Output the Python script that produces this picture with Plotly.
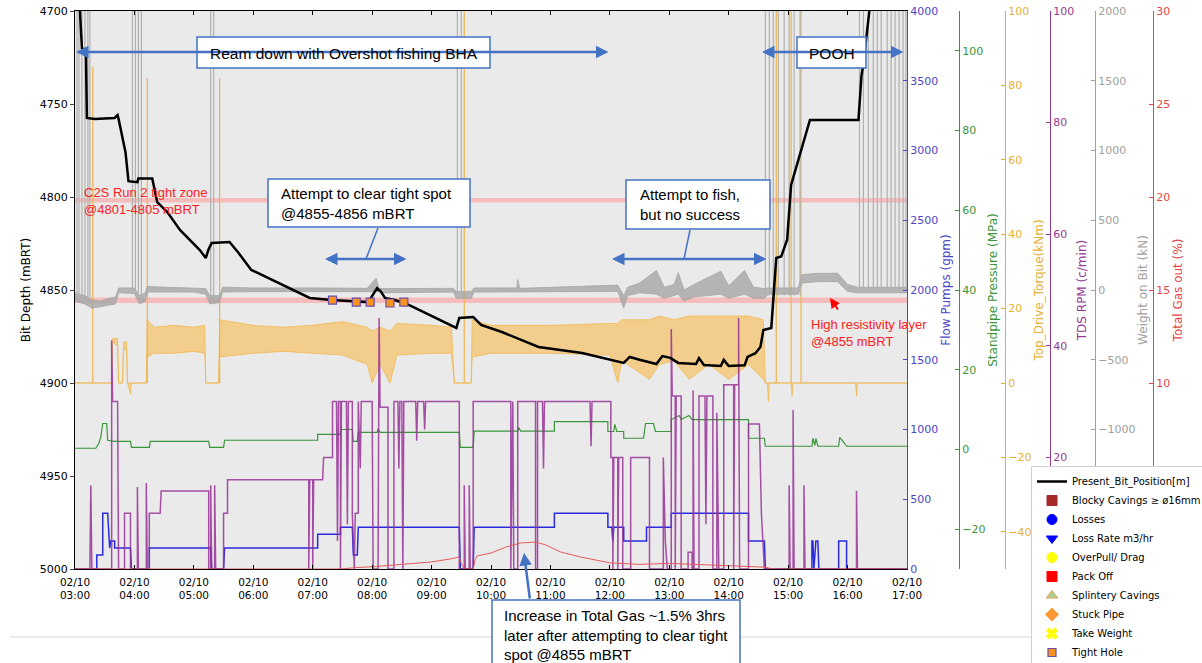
import plotly.graph_objects as go

DAY = "2020-02-10 "

# ---------------- data ----------------
bit_position = [("03:04", 4690), ("03:06", 4712), ("03:07", 4720), ("03:11", 4721), ("03:12", 4757.5),
                ("03:20", 4758), ("03:30", 4757.7), ("03:40", 4757.5), ("03:43", 4756), ("03:44", 4758),
                ("03:51", 4776), ("03:54", 4791.5), ("04:03", 4792), ("04:04", 4790), ("04:18", 4790),
                ("04:23", 4802.7), ("04:33", 4808), ("04:46", 4817.7), ("05:06", 4828.5), ("05:12", 4832.8),
                ("05:15", 4828), ("05:18", 4824.7), ("05:36", 4824.2), ("05:45", 4830), ("05:58", 4839.2),
                ("06:24", 4845.7), ("06:57", 4854.3), ("07:19", 4855.4), ("07:56", 4856.5), ("08:05", 4849),
                ("08:09", 4851), ("08:13", 4854.3), ("08:23", 4855.4), ("08:37", 4858), ("09:25", 4870.4),
                ("09:28", 4865), ("09:42", 4864.5), ("09:50", 4868.8), ("10:11", 4872.6), ("10:48", 4880.6),
                ("11:32", 4883.9), ("12:14", 4889.2), ("12:20", 4886), ("12:31", 4887.6), ("12:47", 4889.8),
                ("12:53", 4885.5), ("13:01", 4886.5), ("13:09", 4889.2), ("13:27", 4889.8), ("13:30", 4886.6),
                ("13:35", 4890.3), ("13:52", 4890.9), ("13:55", 4887.6), ("14:00", 4890.9), ("14:16", 4890.5),
                ("14:19", 4886), ("14:27", 4884), ("14:32", 4880.6), ("14:35", 4871.5), ("14:43", 4870.4),
                ("14:48", 4832.8), ("14:53", 4832), ("14:59", 4823), ("15:03", 4793.5), ("15:13", 4774.7),
                ("15:22", 4758.6), ("16:11", 4758.6), ("16:14", 4735), ("16:16", 4728), ("16:22", 4700),
                ("16:24", 4680)]

tight_hole = [("07:20", 4855.4), ("07:44", 4856.5), ("07:58", 4856.5), ("08:18", 4857), ("08:32", 4856.5)]

flow_pumps = [("03:00", 0), ("03:22", 0), ("03:22", 100), ("03:28", 100), ("03:28", 400), ("03:33", 400),
              ("03:35", 150), ("03:36", 200), ("03:40", 200), ("03:40", 150), ("03:56", 150), ("03:57", 0),
              ("04:15", 0), ("04:15", 150), ("05:17", 150), ("05:18", 0), ("05:30", 0), ("05:31", 150),
              ("07:05", 150), ("07:05", 250), ("07:28", 250), ("07:28", 300), ("07:40", 300), ("07:41", 100),
              ("07:45", 100), ("07:46", 300), ("09:28", 300), ("09:29", 0), ("09:42", 0), ("09:43", 300),
              ("11:04", 300), ("11:04", 400), ("11:58", 400), ("11:58", 300), ("12:02", 300), ("12:03", 200),
              ("12:04", 300), ("12:14", 300), ("12:14", 200), ("12:37", 200), ("12:37", 300), ("13:02", 300),
              ("13:02", 400), ("14:20", 400), ("14:20", 200), ("14:36", 200), ("14:37", 0), ("15:24", 0),
              ("15:24", 200), ("15:25", 200), ("15:26", 0), ("15:28", 200), ("15:30", 200), ("15:31", 0),
              ("15:51", 0), ("15:51", 200), ("15:59", 200), ("15:59", 0), ("17:00", 0)]

standpipe = [("03:00", 0.3), ("03:21", 0.3), ("03:24", 1.5), ("03:26", 3), ("03:28", 6.5), ("03:32", 6.5),
             ("03:33", 2.3), ("03:40", 2.0), ("03:56", 2.0), ("03:57", 0.5), ("04:15", 0.5), ("04:16", 2.0),
             ("05:15", 2.0), ("05:16", 0.5), ("05:30", 0.5), ("05:31", 2.3), ("07:05", 2.3), ("07:05", 3.8),
             ("07:28", 3.8), ("07:28", 5.0), ("07:40", 5.0), ("07:41", 2.0), ("07:45", 2.0), ("07:46", 4.3),
             ("08:05", 4.3), ("08:06", 5.2), ("08:08", 4.3), ("09:28", 4.3), ("09:29", 0.5), ("09:42", 0.5),
             ("09:43", 4.6), ("10:27", 4.6), ("10:28", 5.5), ("10:30", 4.6), ("11:04", 4.6), ("11:04", 7.0),
             ("11:58", 7.0), ("11:58", 4.5), ("12:04", 4.5), ("12:05", 6.3), ("12:07", 4.5), ("12:14", 4.5),
             ("12:14", 2.8), ("12:34", 2.8), ("12:36", 6.5), ("12:44", 6.5), ("12:46", 4.5), ("13:02", 4.5),
             ("13:02", 7.5), ("13:10", 8.5), ("13:12", 7.5), ("13:20", 8.5), ("13:23", 7.5), ("14:20", 7.5),
             ("14:20", 2.8), ("14:36", 2.8), ("14:37", 0.8), ("15:24", 0.8), ("15:25", 2.8), ("15:27", 1.0),
             ("15:28", 2.8), ("15:30", 0.8), ("15:51", 0.8), ("15:52", 3.0), ("15:57", 1.5), ("15:59", 0.8),
             ("17:00", 0.8)]

# torque: (time, lower edge, upper edge) of the noisy trace
torque_band = [("03:00", 0, 0), ("03:37", 0, 0), ("03:38", 11, 12), ("03:43", 10, 12), ("03:44", 0, 0),
               ("03:48", 0, 0), ("03:49", 9, 11), ("03:52", 9, 11), ("03:53", 0, 0), ("03:56", -3, 0),
               ("03:57", 0, 0), ("04:12", 0, 0), ("04:13", 7, 17), ("04:20", 8, 15), ("04:40", 8, 15.5),
               ("05:00", 8.5, 15), ("05:11", 8, 15.5), ("05:12", 0, 0), ("05:25", 0, 0), ("05:26", 7, 17),
               ("06:00", 8, 15.5), ("06:30", 8.5, 15), ("07:00", 8, 15.5), ("07:30", 7.5, 16.5), ("07:55", 5, 15),
               ("08:00", 0, 14), ("08:08", 5, 15), ("08:18", 0, 14), ("08:25", 7.5, 16), ("09:00", 8, 15.5),
               ("09:20", 8, 15), ("09:23", 0, 0), ("09:40", 0, 0), ("09:41", 7, 17), ("10:00", 8, 15.5),
               ("11:00", 8, 15.5), ("12:00", 7.5, 16), ("12:08", 0, 16), ("12:12", 6, 17), ("12:40", 1, 17),
               ("12:50", 5, 18), ("13:05", 6, 17), ("13:20", 1, 18), ("13:40", 5, 18), ("14:00", 1, 18),
               ("14:20", 5, 18), ("14:35", 1, 17), ("14:37", 0, 0), ("14:39", 0, 0), ("14:40", -5, 0),
               ("14:41", 0, 0), ("15:03", 0, 0), ("15:04", -3.5, 0), ("15:05", 0, 0), ("16:08", 0, 0),
               ("16:09", -3.5, 0), ("16:10", 0, 0), ("17:00", 0, 0)]

# torque spikes: (time, base, top)
torque_spikes = [("03:18", 0, 85), ("04:13", 0, 82), ("05:26", 0, 82), ("09:33", 0, 105),
                 ("14:48", 0, 105), ("15:03", 0, 105), ("15:13", 0, 105)]

tds_rpm = [("03:00", 0), ("03:15", 0), ("03:16", 15), ("03:17", 0), ("03:37", 0), ("03:37", 41), ("03:38", 30),
           ("03:43", 30), ("03:44", 0), ("03:50", 0), ("03:50", 10), ("03:56", 10), ("03:56", 0), ("04:03", 0),
           ("04:03", 14.7), ("04:04", 0), ("04:12", 0), ("04:12", 15.4), ("04:13", 0), ("04:15", 0), ("04:15", 10),
           ("04:26", 10), ("04:27", 14), ("05:15", 14), ("05:15", 0), ("05:17", 0), ("05:17", 15), ("05:18", 0),
           ("05:21", 0), ("05:21", 15), ("05:22", 0), ("05:30", 0), ("05:30", 10), ("05:34", 10), ("05:34", 16),
           ("06:56", 16), ("06:56", 0), ("06:57", 16), ("07:00", 16), ("07:00", 0), ("07:01", 16), ("07:10", 16),
           ("07:11", 20), ("07:20", 20), ("07:20", 30), ("07:24", 30), ("07:25", 5), ("07:26", 30), ("07:28", 30),
           ("07:28", 0), ("07:29", 30), ("07:34", 30), ("07:35", 8), ("07:36", 30), ("07:40", 30), ("07:40", 10),
           ("07:42", 0), ("07:43", 10), ("07:46", 10), ("07:46", 30), ("07:48", 18), ("07:49", 30), ("08:00", 30),
           ("08:01", 0), ("08:06", 0), ("08:07", 45), ("08:08", 29), ("08:16", 29), ("08:16", 0), ("08:22", 0),
           ("08:22", 30), ("08:26", 30), ("08:27", 18), ("08:28", 30), ("08:30", 30), ("08:31", 0), ("08:32", 30),
           ("08:44", 30), ("08:45", 23), ("08:46", 30), ("08:52", 30), ("08:53", 25), ("08:54", 30), ("09:28", 30),
           ("09:28", 0), ("09:33", 0), ("09:33", 15), ("09:34", 0), ("09:38", 0), ("09:38", 15), ("09:39", 0),
           ("09:42", 0), ("09:42", 30), ("10:20", 30), ("10:20", 0), ("10:22", 30), ("10:23", 0), ("10:27", 0),
           ("10:27", 30), ("10:45", 30), ("10:45", 0), ("10:47", 0), ("10:47", 30), ("10:52", 30), ("10:53", 18),
           ("10:54", 30), ("11:40", 30), ("11:41", 22), ("11:42", 30), ("12:01", 30), ("12:01", 20), ("12:03", 20),
           ("12:03", 0), ("12:04", 20), ("12:08", 20), ("12:08", 0), ("12:09", 20), ("12:13", 20), ("12:13", 0),
           ("12:21", 0), ("12:21", 20), ("12:40", 20), ("12:40", 0), ("12:54", 0), ("12:54", 20), ("12:56", 5),
           ("12:58", 0), ("13:02", 0), ("13:02", 43), ("13:03", 31), ("13:06", 31), ("13:06", 0), ("13:07", 31),
           ("13:12", 31), ("13:12", 0), ("13:19", 0), ("13:19", 3), ("13:23", 3), ("13:23", 0), ("13:24", 0),
           ("13:24", 32), ("13:25", 0), ("13:30", 0), ("13:30", 31), ("13:36", 31), ("13:37", 8), ("13:38", 31),
           ("13:44", 31), ("13:44", 0), ("13:48", 0), ("13:48", 28), ("13:50", 0), ("13:55", 0), ("13:55", 33),
           ("14:05", 33), ("14:05", 0), ("14:06", 33), ("14:10", 33), ("14:10", 45), ("14:11", 0), ("14:20", 0),
           ("14:20", 26), ("14:31", 26), ("14:33", 10), ("14:36", 0), ("15:01", 0), ("15:01", 15), ("15:02", 0),
           ("15:05", 0), ("15:05", 28.5), ("15:06", 0), ("15:16", 0), ("15:16", 15), ("15:17", 0), ("16:09", 0),
           ("16:09", 14), ("16:10", 0), ("17:00", 0)]

# weight on bit: (time, lower edge, upper edge)
wob_band = [("03:00", -80, -20), ("03:10", -100, -40), ("03:17", -130, -70), ("03:25", -120, -80),
            ("03:35", -110, -60), ("03:41", -100, -50), ("03:44", -20, 15), ("04:00", -25, 15),
            ("04:05", -100, -40), ("04:11", -80, -20), ("04:13", -15, 25), ("04:30", -15, 20), ("05:00", -15, 15),
            ("05:12", -30, 10), ("05:16", -100, -40), ("05:26", -90, -40), ("05:29", -15, 20), ("06:00", -12, 15),
            ("07:00", -12, 15), ("07:55", -12, 12), ("08:04", -12, 85), ("08:07", -12, 12), ("08:12", -20, 10),
            ("09:22", -15, 12), ("09:25", -60, -10), ("09:40", -60, -10), ("09:43", -15, 15), ("10:26", -15, 15),
            ("10:27", -15, 75), ("10:29", -12, 12), ("12:08", -10, 35), ("12:14", -130, -40), ("12:18", -40, 20),
            ("12:30", -20, 50), ("12:47", -30, 140), ("12:55", -60, 20), ("13:05", -40, 40), ("13:09", -30, 125),
            ("13:15", -80, 0), ("13:25", -50, 40), ("13:52", -30, 135), ("14:00", -60, 30), ("14:16", -30, 140),
            ("14:25", -60, 20), ("14:36", -60, 10), ("14:40", -30, 15), ("15:10", -30, 15), ("15:14", 50, 110),
            ("15:30", 60, 120), ("15:50", 60, 120), ("16:00", -10, 40), ("16:10", -20, 20), ("17:00", -20, 20)]

# weight on bit spikes: (time, base, top)
wob_spikes = [("03:02", -60, 2100), ("03:04", -60, 2100), ("03:07", -80, 2100), ("03:10", -80, 2100),
              ("03:13", -100, 2100), ("03:15", -100, 2100), ("03:58", 0, 2100), ("04:01", 0, 2100),
              ("04:04", -40, 2100), ("04:07", -40, 2100), ("05:17", -60, 2100), ("05:20", -60, 2100),
              ("09:26", -40, 2100), ("09:30", -40, 2100), ("14:37", -40, 2100), ("14:41", -40, 2100),
              ("14:45", -40, 2100), ("14:50", -40, 2100), ("14:56", -40, 2100), ("15:01", -40, 2100),
              ("15:06", -40, 2100), ("15:12", -40, 2100), ("16:12", 0, 2100), ("16:16", 0, 2100),
              ("16:21", 0, 2100), ("16:26", 0, 2100), ("16:30", 0, 2100), ("16:34", 0, 2100),
              ("16:40", 0, 2100), ("16:44", 0, 2100), ("16:48", 0, 2100), ("16:52", 0, 2100),
              ("16:56", 0, 2100), ("16:59", 0, 2100)]

total_gas = [("03:00", 0), ("07:28", 0), ("07:45", 0.08), ("08:00", 0.12), ("08:30", 0.25), ("09:00", 0.38),
             ("09:20", 0.55), ("09:28", 0.65), ("09:30", 0.3), ("09:33", 0), ("09:42", 0), ("09:44", 0.5),
             ("09:46", 0.7), ("10:00", 0.86), ("10:15", 1.18), ("10:30", 1.4), ("10:45", 1.45), ("10:55", 1.3),
             ("11:10", 0.92), ("11:30", 0.65), ("12:00", 0.33), ("12:30", 0.25), ("13:00", 0.3), ("13:30", 0.25),
             ("14:00", 0.2), ("14:30", 0.15), ("14:36", 0.1), ("14:45", 0), ("17:00", 0)]

legend_events = [("Blocky Cavings ≥ ø16mm", "square", "#a52a2a", "#a52a2a"),
                 ("Losses", "circle", "#0000ff", "#0000ff"),
                 ("Loss Rate m3/hr", "triangle-down", "#0000ff", "#0000ff"),
                 ("OverPull/ Drag", "circle", "#ffff00", "#ffff00"),
                 ("Pack Off", "square", "#ff0000", "#ff0000"),
                 ("Splintery Cavings", "triangle-up", "#a9d18e", "#ed9b5a"),
                 ("Stuck Pipe", "diamond", "#ff9933", "#ff9933"),
                 ("Take Weight", "x", "#ffff00", "#ffff00")]

# ---------------- geometry helpers ----------------
W, H = 1202, 663
ML, MR, MT, MB = 75, 10, 11, 94
PW, PH = W - ML - MR, H - MT - MB


def px(x):
    return (x - ML) / PW


def py(y):
    return (H - MB - y) / PH


def T(s):
    return DAY + s


def xy(pairs):
    return [T(p[0]) for p in pairs], [p[1] for p in pairs]


def spikes(rows):
    xs, ys = [], []
    for t, b, top in rows:
        xs += [T(t), T(t), None]
        ys += [b, top, None]
    return xs, ys


FONT = "DejaVu Sans, Verdana, sans-serif"
AFONT = "Liberation Sans, Arial, sans-serif"
C_FLOW, C_SPP, C_RPM, C_WOB, C_GAS = "#2a2ae0", "#3a963a", "#953a95", "#a6a6a6", "#e64646"
C_ANN = "#4472c4"

fig = go.Figure()

x, y = xy(flow_pumps)
fig.add_trace(go.Scatter(x=x, y=y, mode="lines", line=dict(color=C_FLOW, width=1.5), yaxis="y", showlegend=False))

x, y = xy(standpipe)
fig.add_trace(go.Scatter(x=x, y=y, mode="lines", line=dict(color=C_SPP, width=1.2), yaxis="y2", showlegend=False))

tx = [T(r[0]) for r in torque_band]
fig.add_trace(go.Scatter(x=tx, y=[r[1] for r in torque_band], mode="lines",
                         line=dict(color="rgba(240,182,72,0.9)", width=0.8), yaxis="y3", showlegend=False))
fig.add_trace(go.Scatter(x=tx, y=[r[2] for r in torque_band], mode="lines", fill="tonexty",
                         fillcolor="rgba(245,192,100,0.7)", line=dict(color="rgba(240,182,72,0.9)", width=0.8),
                         yaxis="y3", showlegend=False))
x, y = spikes(torque_spikes)
fig.add_trace(go.Scatter(x=x, y=y, mode="lines", line=dict(color="#f0b44a", width=1.2), yaxis="y3",
                         showlegend=False, connectgaps=False))

x, y = xy(tds_rpm)
fig.add_trace(go.Scatter(x=x, y=y, mode="lines", line=dict(color="rgba(150,50,150,0.85)", width=1.5),
                         yaxis="y4", showlegend=False))

wx = [T(r[0]) for r in wob_band]
fig.add_trace(go.Scatter(x=wx, y=[r[1] for r in wob_band], mode="lines",
                         line=dict(color=C_WOB, width=0.8), yaxis="y5", showlegend=False))
fig.add_trace(go.Scatter(x=wx, y=[r[2] for r in wob_band], mode="lines", fill="tonexty",
                         fillcolor="rgba(166,166,166,0.8)", line=dict(color=C_WOB, width=0.8),
                         yaxis="y5", showlegend=False))
x, y = spikes(wob_spikes)
fig.add_trace(go.Scatter(x=x, y=y, mode="lines", line=dict(color="#b0b0b0", width=1.2), yaxis="y5",
                         showlegend=False, connectgaps=False))

x, y = xy(total_gas)
fig.add_trace(go.Scatter(x=x, y=y, mode="lines", line=dict(color="#e85a5a", width=1), yaxis="y6", showlegend=False))

x, y = xy(bit_position)
fig.add_trace(go.Scatter(x=x, y=y, mode="lines", line=dict(color="black", width=2.5), yaxis="y7",
                         name="Present_Bit_Position[m]"))
for name, sym, fillc, linec in legend_events:
    fig.add_trace(go.Scatter(x=[None], y=[None], mode="markers", yaxis="y7", name=name,
                             marker=dict(symbol=sym, color=fillc, size=10, line=dict(color=linec, width=1))))
x, y = xy(tight_hole)
fig.add_trace(go.Scatter(x=x, y=y, mode="markers", yaxis="y7", name="Tight Hole",
                         marker=dict(symbol="square", color="#f7931e", size=8, line=dict(color="#6a4fb0", width=1.2))))


def right_axis(title, color, rng, tickvals, pos=None):
    d = dict(title=dict(text=title, font=dict(color=color, size=12, family=FONT), standoff=4),
             range=rng, tickmode="array", tickvals=tickvals, side="right", showline=True, linecolor=color,
             linewidth=1, ticks="inside", ticklen=4, tickcolor=color,
             tickfont=dict(color=color, size=11, family=FONT),
             showgrid=False, zeroline=False, automargin=False)
    if pos is None:
        d["anchor"] = "x"
    else:
        d.update(anchor="free", position=pos, overlaying="y")
    return d


fig.update_layout(
    template="none",
    width=W, height=H,
    margin=dict(l=ML, r=MR, t=MT, b=MB, autoexpand=False),
    paper_bgcolor="white", plot_bgcolor="#eaeaea",
    font=dict(family=FONT, size=11, color="black"),
    xaxis=dict(domain=[0, px(907)], type="date", range=[T("03:00"), T("17:00")], dtick=3600000,
               tickformat="%m/%d<br>%H:%M", showline=True, linecolor="black", linewidth=1, mirror="ticks",
               ticks="inside", ticklen=4, tickcolor="black", showgrid=False, zeroline=False, automargin=False,
               ticklabelstandoff=3, tickfont=dict(size=10.5, family=FONT)),
    yaxis=right_axis("Flow Pumps (gpm)", "#4b47c8", [0, 4000], list(range(0, 4001, 500))),
    yaxis2=right_axis("Standpipe Pressure (MPa)", C_SPP, [-30, 110], list(range(-20, 101, 20)), px(959)),
    yaxis3=right_axis("Top_Drive_Torque(kNm)", "#e6b036", [-50, 100], list(range(-40, 101, 20)), px(1005)),
    yaxis4=right_axis("TDS RPM (c/min)", C_RPM, [0, 100], list(range(20, 101, 20)), px(1050)),
    yaxis5=right_axis("Weight on Bit (kN)", "#a0a0a0", [-2000, 2000], list(range(-1000, 2001, 500)), px(1095)),
    yaxis6=right_axis("Total Gas out (%)", C_GAS, [0, 30], list(range(10, 31, 5)), px(1153)),
    yaxis7=dict(title=dict(text="Bit Depth (mBRT)", font=dict(size=12, family=FONT), standoff=6),
                overlaying="y", side="left", anchor="x", range=[5000, 4700], dtick=50,
                showline=True, linecolor="black", linewidth=1, ticks="outside", ticklen=4,
                tickfont=dict(size=11, family=FONT), showgrid=False, zeroline=False, automargin=False),
    legend=dict(x=px(1031), y=py(466), xanchor="left", yanchor="top", bgcolor="white", traceorder="normal",
                bordercolor="#d0d0d0", borderwidth=1, font=dict(family=FONT, size=10), tracegroupgap=0),
    showlegend=True,
)

shapes = []
# highlighted depth zones
for d0, d1 in [(4800.5, 4803), (4854, 4857)]:
    shapes.append(dict(type="rect", xref="paper", yref="y7", x0=0, x1=px(907), y0=d0, y1=d1,
                       fillcolor="rgba(255,150,150,0.55)", line=dict(width=0), layer="below"))
# slide separator
shapes.append(dict(type="line", xref="paper", yref="paper", x0=px(10), x1=px(1031), y0=py(637), y1=py(637),
                   line=dict(color="#d6d6d6", width=1)))
# callout boxes
for x0, y0, x1, y1 in [(197, 37, 490, 68), (797, 37, 866, 68), (268, 179, 470, 227),
                       (626, 180, 770, 229), (492, 600, 740, 690)]:
    shapes.append(dict(type="rect", xref="paper", yref="paper", x0=px(x0), x1=px(x1), y0=py(y0), y1=py(y1),
                       fillcolor="white", line=dict(color=C_ANN, width=1.5), layer="above"))
# connector lines
for x0, y0, x1, y1 in [(378, 228, 366, 259), (690, 230, 684, 259)]:
    shapes.append(dict(type="line", xref="paper", yref="paper", x0=px(x0), x1=px(x1), y0=py(y0), y1=py(y1),
                       line=dict(color=C_ANN, width=1.5), layer="above"))
fig.update_layout(shapes=shapes)

ann = []


def arrow(xh, yh, xt, yt, color, width, both=True, size=1.0):
    ann.append(dict(x=px(xh), y=py(yh), xref="paper", yref="paper", ax=xt - xh, ay=yt - yh,
                    axref="pixel", ayref="pixel", text="", showarrow=True, arrowhead=2, arrowsize=size,
                    arrowwidth=width, arrowcolor=color, arrowside="end+start" if both else "end",
                    standoff=0, startstandoff=0))


arrow(76, 52, 610, 52, C_ANN, 2.5)
arrow(762, 52, 905, 52, C_ANN, 2.5)
arrow(325, 259, 408, 259, C_ANN, 2.5)
arrow(612, 259, 768, 259, C_ANN, 2.5)
arrow(524, 553, 530, 600, C_ANN, 2.5, both=False)
arrow(830, 298, 839, 311, "#ff0000", 2, both=False)


def text(x, y, s, size, color="black", anchor="left"):
    ann.append(dict(x=px(x), y=py(y), xref="paper", yref="paper", text=s, showarrow=False,
                    xanchor=anchor, yanchor="middle", align="left",
                    font=dict(family=AFONT, size=size, color=color)))


text(343.5, 53, "Ream down with Overshot fishing BHA", 15.5, anchor="center")
text(831.5, 53, "POOH", 15.5, anchor="center")
text(279, 203, "Attempt to clear tight spot<br>@4855-4856 mBRT", 15)
text(638, 205, "Attempt to fish,<br>but no success", 15)
text(502, 635, "Increase in Total Gas ~1.5% 3hrs<br>later after attempting to clear tight<br>spot @4855 mBRT", 15)
text(82, 201, "C2S Run 2 tight zone<br>@4801-4805 mBRT", 13, color="#ff2020")
text(809, 333, "High resistivity layer<br>@4855 mBRT", 13, color="#ff2020")
fig.update_layout(annotations=ann)

# the page's default 8px body margin would shift the whole figure
fig.write_html("out.html", config={"displayModeBar": False},
               post_script="document.body.style.margin='0px';")
